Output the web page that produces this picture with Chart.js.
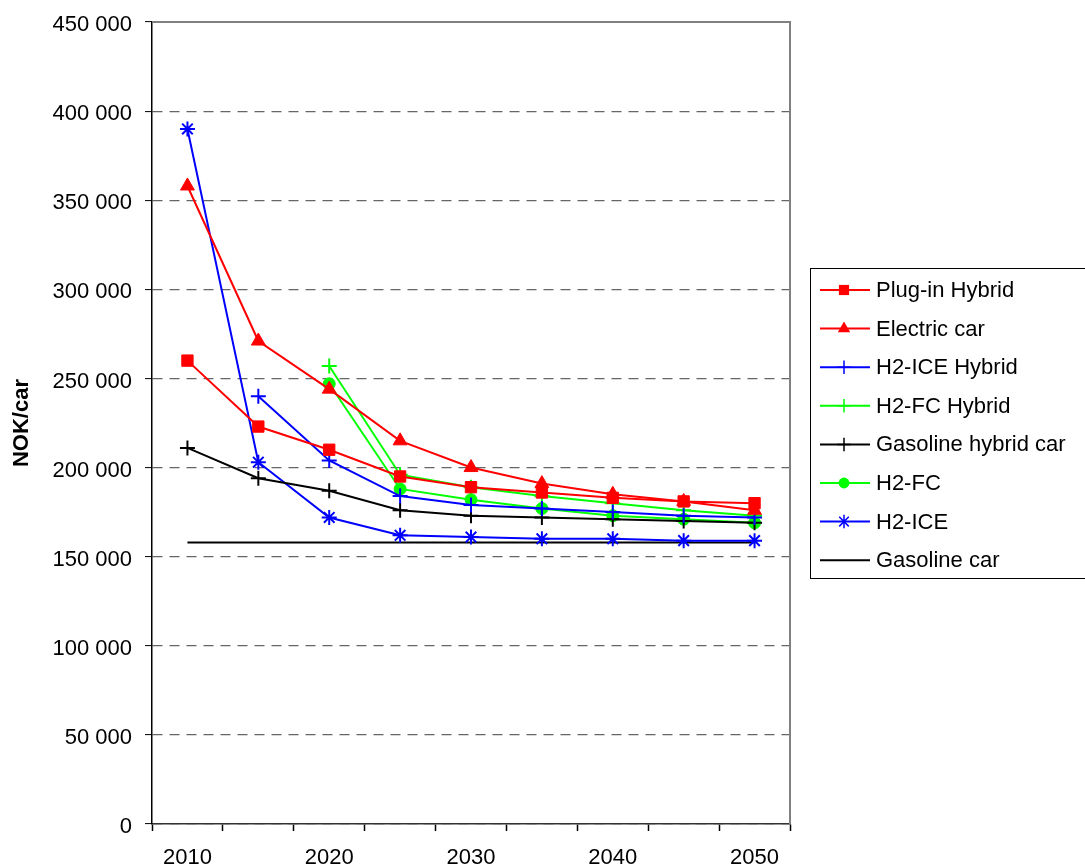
<!DOCTYPE html>
<html>
<head>
<meta charset="utf-8">
<script src="https://cdn.jsdelivr.net/npm/chart.js@4/dist/chart.umd.min.js"></script>
<style>
  html, body { margin: 0; padding: 0; background: #fff; }
  #wrap { width: 1085px; height: 868px; position: relative; }
</style>
</head>
<body>
<div id="wrap"><canvas id="chart"></canvas></div>
<script>
/* cost per car, NOK */

const YEARS = ["2010", "2015", "2020", "2025", "2030", "2035", "2040", "2045", "2050"];

const plugInHybrid   = [260000, 223000, 210000, 195000, 189000, 186000, 183000, 181000, 180000];
const electricCar    = [358000, 271000, 244000, 215000, 200000, 191000, 185000, 181000, 176000];
const h2IceHybrid    = [null, 240000, 204000, 184000, 179000, 177000, 175000, 173000, 172000];
const h2FcHybrid     = [null, null, 257000, 196000, 189000, 184000, 180000, 176000, 173000];
const gasolineHybrid = [211000, 194000, 187000, 176000, 173000, 172000, 171000, 170000, 169000];
const h2Fc           = [null, null, 247000, 188000, 182000, 177000, 173000, 171000, 169000];
const h2Ice          = [390000, 203000, 172000, 162000, 161000, 160000, 160000, 159000, 159000];
const gasolineCar    = [158000, 158000, 158000, 158000, 158000, 158000, 158000, 158000, 158000];

const FONT = "'Liberation Sans', Arial, sans-serif";

// label, data, colour, point style, radius
const SERIES = [
  ["Plug-in Hybrid", plugInHybrid, "#ff0000", "rect", 8],
  ["Electric car", electricCar, "#ff0000", "triangle", 8],
  ["H2-ICE Hybrid", h2IceHybrid, "#0000ff", "cross", 7.5],
  ["H2-FC Hybrid", h2FcHybrid, "#00ff00", "cross", 7.5],
  ["Gasoline hybrid car", gasolineHybrid, "#000000", "cross", 7.5],
  ["H2-FC", h2Fc, "#00ff00", "circle", 6],
  ["H2-ICE", h2Ice, "#0000ff", "star", 7.5],
  ["Gasoline car", gasolineCar, "#000000", false, 0],
];

function fmtThousands(v) {
  return String(v).replace(/\B(?=(\d{3})+(?!\d))/g, " ");
}

/* ── 작은 마커 (범례용) ── */
function drawMarker(ctx, style, x, y, r, color) {
  ctx.save();
  ctx.fillStyle = color;
  ctx.strokeStyle = color;
  ctx.lineWidth = 1.5;
  ctx.beginPath();
  if (style === "rect") {
    const s = r * Math.SQRT1_2;
    ctx.rect(x - s, y - s, 2 * s, 2 * s);
    ctx.fill();
  } else if (style === "triangle") {
    ctx.moveTo(x, y - r);
    ctx.lineTo(x + r * 0.866, y + r * 0.5);
    ctx.lineTo(x - r * 0.866, y + r * 0.5);
    ctx.closePath();
    ctx.fill();
  } else if (style === "circle") {
    ctx.arc(x, y, r, 0, Math.PI * 2);
    ctx.fill();
  } else if (style === "cross") {
    ctx.moveTo(x, y - r); ctx.lineTo(x, y + r);
    ctx.moveTo(x - r, y); ctx.lineTo(x + r, y);
    ctx.stroke();
  } else if (style === "star") {
    const d = r * Math.SQRT1_2;
    ctx.moveTo(x, y - r); ctx.lineTo(x, y + r);
    ctx.moveTo(x - d, y - d); ctx.lineTo(x + d, y + d);
    ctx.moveTo(x + d, y - d); ctx.lineTo(x - d, y + d);
    ctx.stroke();
  }
  ctx.restore();
}

const frameAndLegend = {
  id: "frameAndLegend",
  beforeDatasetsDraw(chart) {
    const { ctx, chartArea: a } = chart;
    // plot area border (top / right)
    ctx.save();
    ctx.strokeStyle = "#808080";
    ctx.lineWidth = 2;
    ctx.beginPath();
    ctx.moveTo(a.left, a.top);
    ctx.lineTo(a.right, a.top);
    ctx.lineTo(a.right, a.bottom);
    ctx.stroke();
    ctx.restore();
  },
  afterDraw(chart) {
    const ctx = chart.ctx;
    ctx.save();
    ctx.strokeStyle = "#000";
    ctx.lineWidth = 1;
    ctx.strokeRect(810.5, 268.5, 300, 310);
    ctx.font = "22px " + FONT;
    ctx.textBaseline = "middle";
    ctx.fillStyle = "#000";
    SERIES.forEach(([label, , color, style, r], i) => {
      const y = 290 + i * 38.6;
      ctx.strokeStyle = color;
      ctx.lineWidth = 2;
      ctx.beginPath();
      ctx.moveTo(820, y);
      ctx.lineTo(870, y);
      ctx.stroke();
      if (style) drawMarker(ctx, style, 844, y, r * 0.9, color);
      ctx.fillStyle = "#000";
      ctx.fillText(label, 876, y + 1);
    });
    ctx.restore();
  },
};

const datasets = SERIES.map(([label, data, color, style, r]) => ({
  label,
  data,
  borderColor: color,
  backgroundColor: color,
  borderWidth: 2,
  pointStyle: style,
  pointRadius: r,
  pointBorderWidth: style === "cross" || style === "star" ? 2 : 1,
  tension: 0,
}));

new Chart(document.getElementById("chart"), {
  type: "line",
  data: { labels: YEARS, datasets },
  plugins: [frameAndLegend],
  options: {
    responsive: true,
    maintainAspectRatio: false,
    animation: false,
    layout: { padding: { top: 22, right: 295, left: 0, bottom: 0 } },
    plugins: { legend: { display: false }, tooltip: { enabled: false } },
    scales: {
      x: {
        offset: true,
        grid: { offset: true, drawOnChartArea: false, tickLength: 7, tickColor: "#000", tickWidth: 1.5 },
        border: { color: "#333", width: 1.5 },
        ticks: {
          autoSkip: false,
          maxRotation: 0,
          padding: 14,
          color: "#000",
          font: { family: FONT, size: 22 },
          callback: function (v, i) { return i % 2 === 0 ? this.getLabelForValue(v) : ""; },
        },
        afterFit(s) { s.height = 44; },
      },
      y: {
        min: 0,
        max: 450000,
        ticks: {
          stepSize: 50000,
          padding: 13,
          labelOffset: 3,
          color: "#000",
          font: { family: FONT, size: 22, lineHeight: 0.8 },
          callback: (v) => fmtThousands(v),
        },
        grid: { color: "#666666", lineWidth: 1.2, tickLength: 7, tickColor: "#000", tickWidth: 1 },
        border: { color: "#000", width: 1.5, dash: [10, 7] },
        title: {
          display: true,
          text: "NOK/car",
          color: "#000",
          font: { family: FONT, size: 22, weight: "bold" },
          padding: { top: 9, bottom: 0 },
        },
        afterFit(s) { s.width = 152; },
      },
    },
  },
});
</script>
</body>
</html>
